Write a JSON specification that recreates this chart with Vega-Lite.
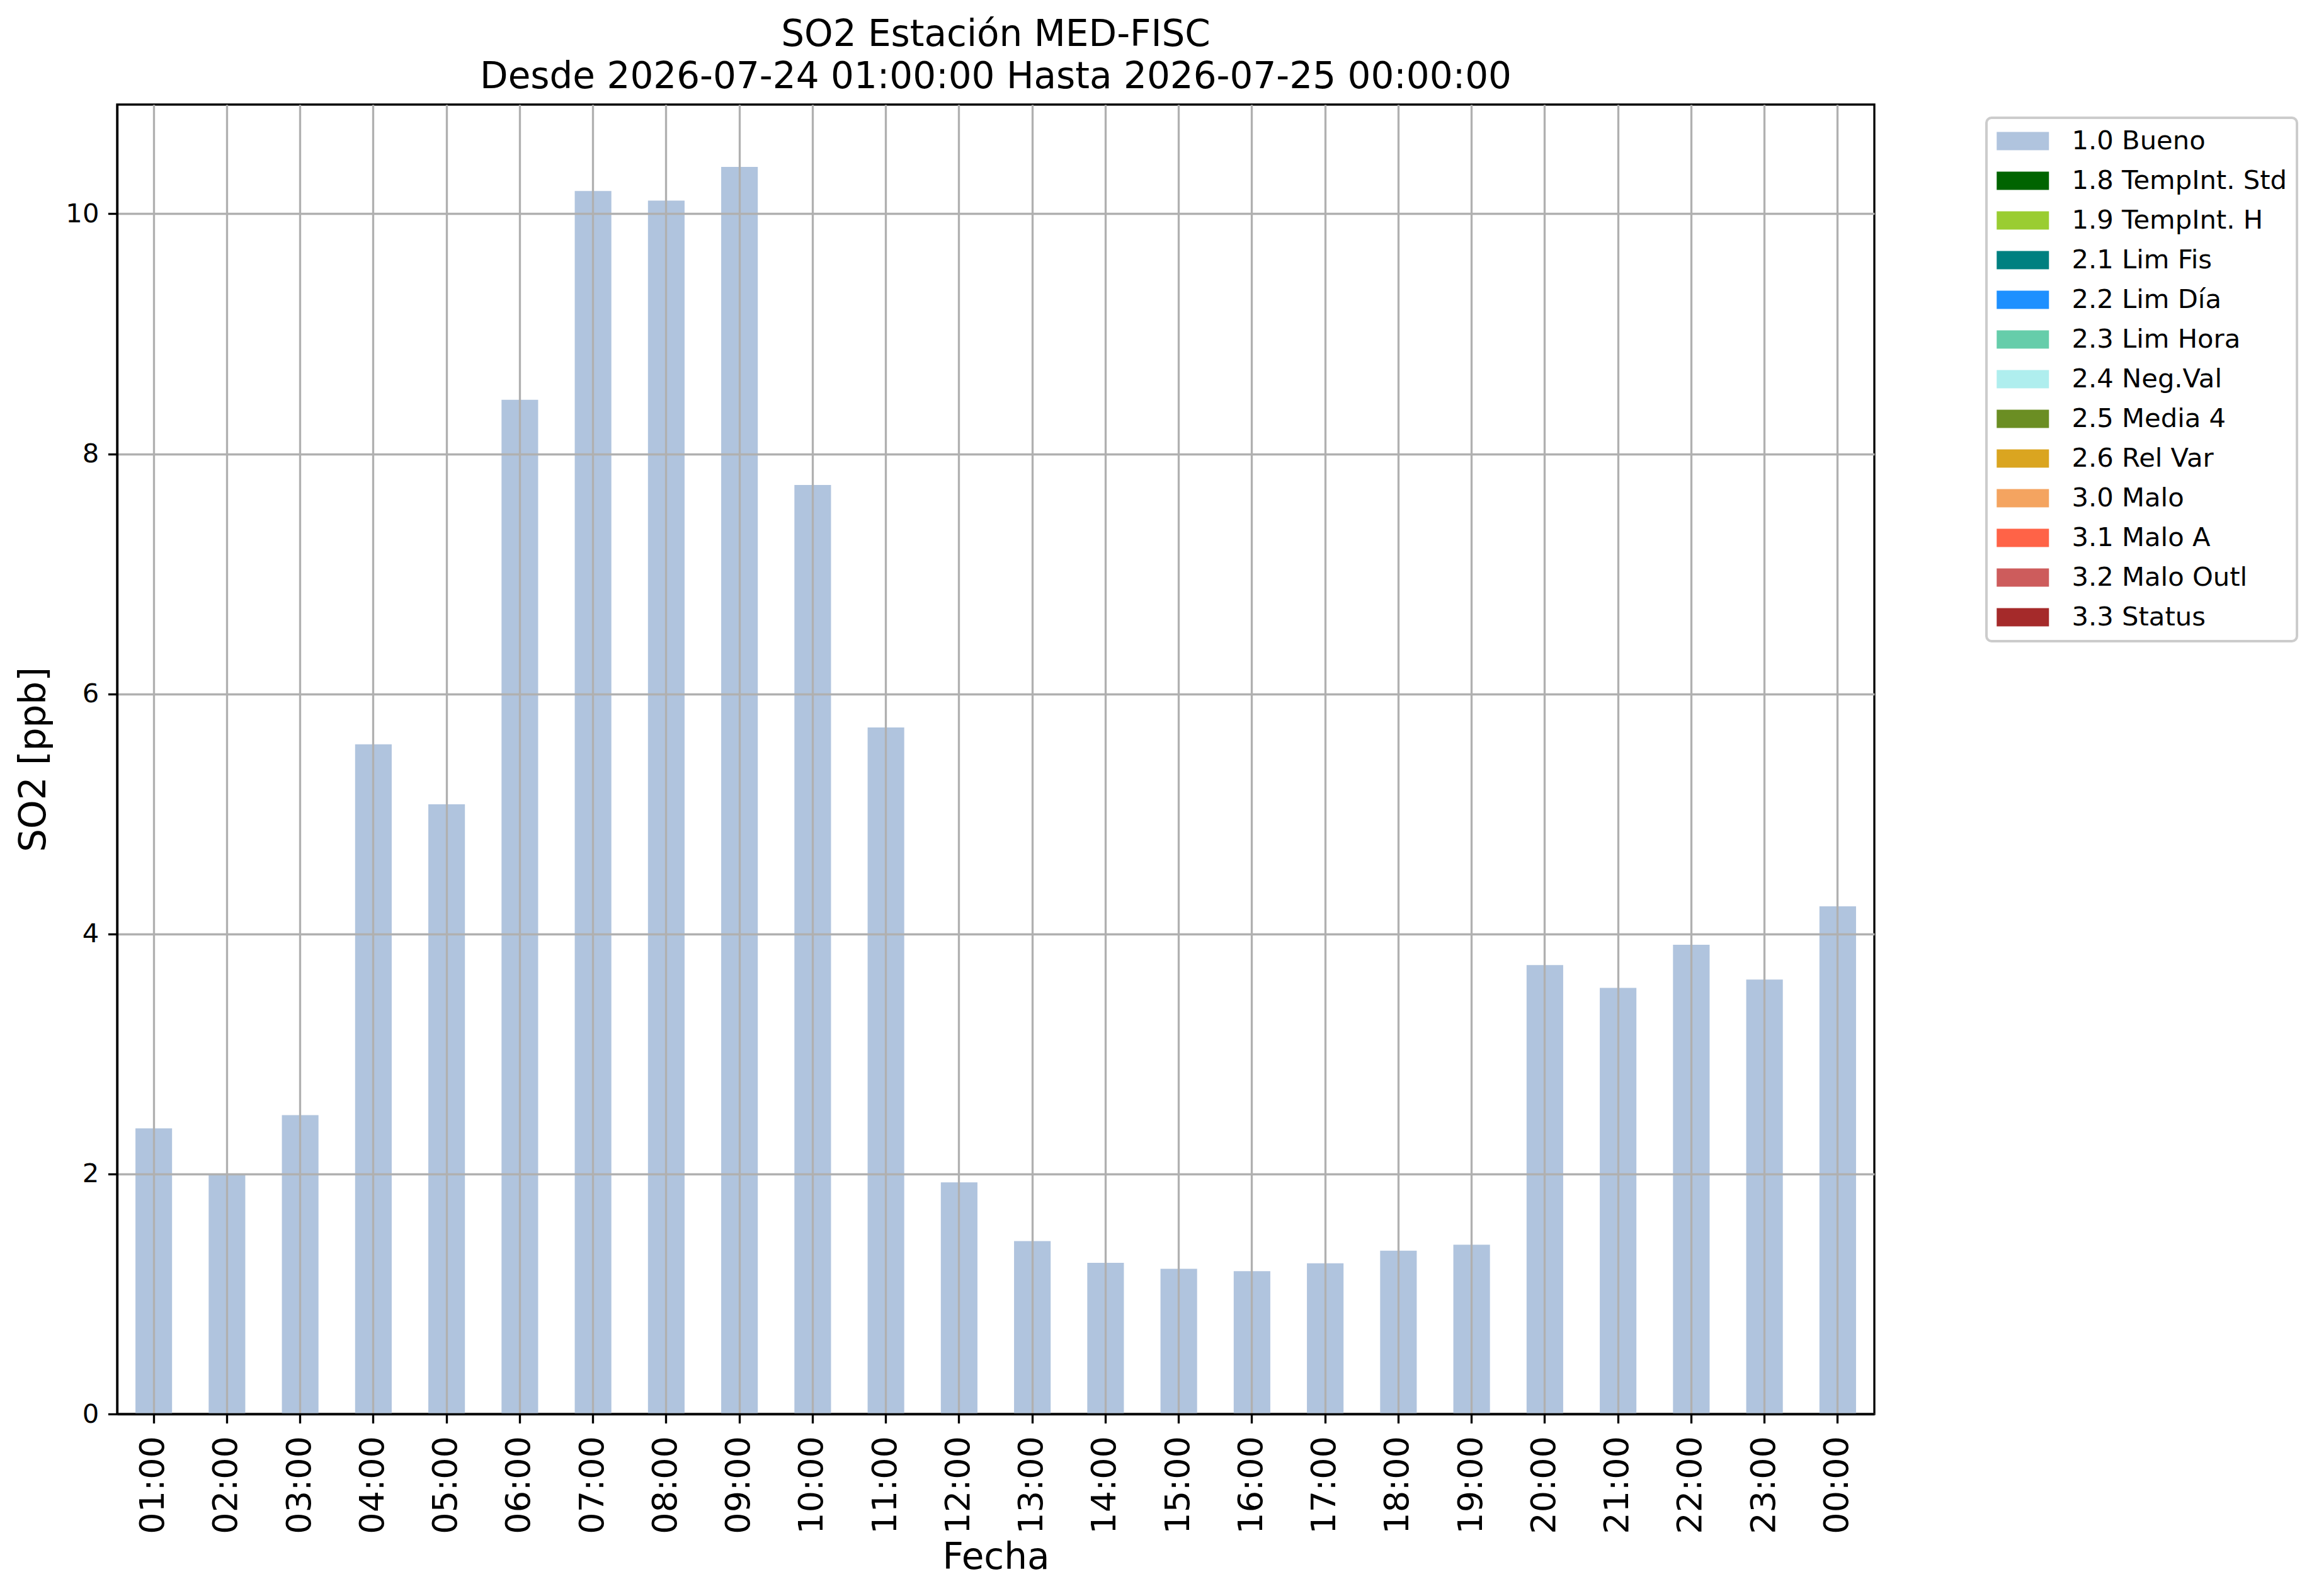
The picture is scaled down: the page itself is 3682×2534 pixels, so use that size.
{
  "$schema": "https://vega.github.io/schema/vega-lite/v6.json",
  "autosize": {"type": "none"},
  "padding": {"left": 186, "top": 166, "right": 706, "bottom": 289},
  "width": 2790,
  "height": 2079,
  "background": "white",
  "title": {
    "text": ["SO2 Estación MED-FISC", "Desde 2026-07-24 01:00:00 Hasta 2026-07-25 00:00:00"],
    "anchor": "middle",
    "frame": "group",
    "font": "DejaVu Sans",
    "fontSize": 58,
    "fontWeight": "normal",
    "color": "black",
    "lineHeight": 67,
    "baseline": "bottom",
    "offset": 10,
    "dy": 54
  },
  "data": {
    "values": [
      {"hora": "01:00", "valor": 2.38, "calidad": "1.0 Bueno"},
      {"hora": "02:00", "valor": 2.0, "calidad": "1.0 Bueno"},
      {"hora": "03:00", "valor": 2.49, "calidad": "1.0 Bueno"},
      {"hora": "04:00", "valor": 5.58, "calidad": "1.0 Bueno"},
      {"hora": "05:00", "valor": 5.08, "calidad": "1.0 Bueno"},
      {"hora": "06:00", "valor": 8.45, "calidad": "1.0 Bueno"},
      {"hora": "07:00", "valor": 10.19, "calidad": "1.0 Bueno"},
      {"hora": "08:00", "valor": 10.11, "calidad": "1.0 Bueno"},
      {"hora": "09:00", "valor": 10.39, "calidad": "1.0 Bueno"},
      {"hora": "10:00", "valor": 7.74, "calidad": "1.0 Bueno"},
      {"hora": "11:00", "valor": 5.72, "calidad": "1.0 Bueno"},
      {"hora": "12:00", "valor": 1.93, "calidad": "1.0 Bueno"},
      {"hora": "13:00", "valor": 1.44, "calidad": "1.0 Bueno"},
      {"hora": "14:00", "valor": 1.26, "calidad": "1.0 Bueno"},
      {"hora": "15:00", "valor": 1.21, "calidad": "1.0 Bueno"},
      {"hora": "16:00", "valor": 1.19, "calidad": "1.0 Bueno"},
      {"hora": "17:00", "valor": 1.255, "calidad": "1.0 Bueno"},
      {"hora": "18:00", "valor": 1.36, "calidad": "1.0 Bueno"},
      {"hora": "19:00", "valor": 1.41, "calidad": "1.0 Bueno"},
      {"hora": "20:00", "valor": 3.74, "calidad": "1.0 Bueno"},
      {"hora": "21:00", "valor": 3.55, "calidad": "1.0 Bueno"},
      {"hora": "22:00", "valor": 3.91, "calidad": "1.0 Bueno"},
      {"hora": "23:00", "valor": 3.62, "calidad": "1.0 Bueno"},
      {"hora": "00:00", "valor": 4.23, "calidad": "1.0 Bueno"}
    ]
  },
  "mark": {"type": "bar"},
  "encoding": {
    "x": {
      "field": "hora",
      "type": "ordinal",
      "sort": null,
      "scale": {"paddingInner": 0.5, "paddingOuter": 0.25},
      "axis": {
        "title": "Fecha",
        "labelAngle": 270,
        "labelFontSize": 54,
        "labelPadding": 20,
        "titlePadding": 9,
        "zindex": 1
      }
    },
    "y": {
      "field": "valor",
      "type": "quantitative",
      "scale": {"domain": [0, 10.91], "nice": false, "zero": true},
      "axis": {
        "title": "SO2 [ppb]",
        "values": [0, 2, 4, 6, 8, 10],
        "labelFontSize": 41.7,
        "labelPadding": 14.5,
        "titlePadding": 20,
        "zindex": 1
      }
    },
    "fill": {
      "field": "calidad",
      "type": "nominal",
      "scale": {
        "domain": ["1.0 Bueno", "1.8 TempInt. Std", "1.9 TempInt. H", "2.1 Lim Fis", "2.2 Lim Día", "2.3 Lim Hora", "2.4 Neg.Val", "2.5 Media 4", "2.6 Rel Var", "3.0 Malo", "3.1 Malo A", "3.2 Malo Outl", "3.3 Status"],
        "range": ["#b0c4de", "#006400", "#9acd32", "#008080", "#1e90ff", "#66cdaa", "#afeeee", "#6b8e23", "#daa520", "#f4a460", "#ff6347", "#cd5c5c", "#a52a2a"]
      },
      "legend": {
        "title": null,
        "orient": "none",
        "legendX": 2968,
        "legendY": 21,
        "symbolType": "M-1,-0.7L3,-0.7L3,0.7L-1,0.7Z",
        "symbolSize": 1722,
        "symbolStrokeWidth": 0,
        "symbolOpacity": 1,
        "labelFont": "DejaVu Sans",
        "labelFontSize": 41.7,
        "labelColor": "black",
        "labelLimit": 1000,
        "labelOffset": 77.5,
        "rowPadding": 20,
        "padding": 16,
        "strokeColor": "#cccccc",
        "fillColor": "white",
        "cornerRadius": 8,
        "encode": {
          "legend": {"update": {"strokeWidth": {"value": 4}}}
        }
      }
    }
  },
  "config": {
    "font": "DejaVu Sans",
    "view": {"stroke": "black", "strokeWidth": 3.33},
    "axis": {
      "labelFont": "DejaVu Sans",
      "titleFont": "DejaVu Sans",
      "labelColor": "black",
      "titleColor": "black",
      "titleFontSize": 58,
      "titleFontWeight": "normal",
      "grid": true,
      "gridColor": "#b0b0b0",
      "gridWidth": 3.33,
      "domainColor": "black",
      "domainWidth": 3.33,
      "tickColor": "black",
      "tickWidth": 3.33,
      "tickSize": 14.6
    }
  }
}
